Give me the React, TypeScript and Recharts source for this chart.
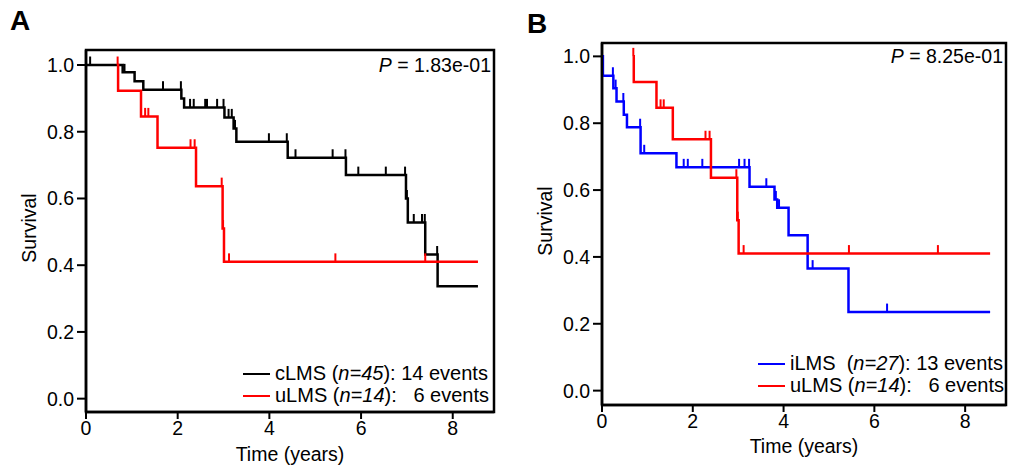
import React from 'react';
import { ComposedChart, Line, XAxis, YAxis, ReferenceArea, Label } from 'recharts';

// survival curves (t = years, s = survival, c = censored mark)
interface KmPoint {
  t: number;
  s: number;
  c?: boolean;
}

const xTicks = [0, 2, 4, 6, 8];
const yTicks = [0, 0.2, 0.4, 0.6, 0.8, 1.0];
const xMax = 8.9;

const cLMS: KmPoint[] = [
  { t: 0, s: 1 }, { t: 0.09, s: 1, c: true },
  { t: 0.8, s: 0.978 }, { t: 0.84, s: 0.978, c: true },
  { t: 1.06, s: 0.951 }, { t: 1.25, s: 0.926 },
  { t: 1.68, s: 0.926, c: true }, { t: 2.07, s: 0.926, c: true },
  { t: 2.08, s: 0.9 }, { t: 2.14, s: 0.873 },
  { t: 2.27, s: 0.873, c: true }, { t: 2.35, s: 0.873, c: true },
  { t: 2.6, s: 0.873, c: true }, { t: 2.64, s: 0.873, c: true },
  { t: 2.86, s: 0.873, c: true }, { t: 3.0, s: 0.873, c: true },
  { t: 3.02, s: 0.843 }, { t: 3.11, s: 0.843, c: true }, { t: 3.18, s: 0.843, c: true },
  { t: 3.22, s: 0.81 }, { t: 3.25, s: 0.81, c: true }, { t: 3.28, s: 0.77 },
  { t: 3.99, s: 0.77, c: true }, { t: 4.38, s: 0.77, c: true },
  { t: 4.4, s: 0.722 }, { t: 4.57, s: 0.722, c: true },
  { t: 5.38, s: 0.722, c: true }, { t: 5.66, s: 0.722, c: true },
  { t: 5.67, s: 0.67 }, { t: 5.94, s: 0.67, c: true },
  { t: 6.54, s: 0.67, c: true }, { t: 6.96, s: 0.67, c: true },
  { t: 6.98, s: 0.6 }, { t: 7.0, s: 0.6, c: true }, { t: 7.02, s: 0.528 },
  { t: 7.15, s: 0.528, c: true }, { t: 7.33, s: 0.528, c: true }, { t: 7.39, s: 0.528, c: true },
  { t: 7.4, s: 0.432 }, { t: 7.66, s: 0.432, c: true },
  { t: 7.67, s: 0.337 }, { t: 8.55, s: 0.337 },
];

const uLMS: KmPoint[] = [
  { t: 0.69, s: 1, c: true }, { t: 0.7, s: 0.923 },
  { t: 1.2, s: 0.846 }, { t: 1.29, s: 0.846, c: true }, { t: 1.36, s: 0.846, c: true },
  { t: 1.56, s: 0.752 }, { t: 2.28, s: 0.752, c: true }, { t: 2.37, s: 0.752, c: true },
  { t: 2.4, s: 0.637 }, { t: 2.96, s: 0.637, c: true },
  { t: 2.98, s: 0.51 }, { t: 2.99, s: 0.51, c: true },
  { t: 3.01, s: 0.41 }, { t: 3.12, s: 0.41, c: true },
  { t: 5.44, s: 0.41, c: true }, { t: 7.4, s: 0.41, c: true }, { t: 8.55, s: 0.41 },
];

const iLMS: KmPoint[] = [
  { t: 0, s: 1 }, { t: 0.02, s: 0.942 },
  { t: 0.24, s: 0.942, c: true }, { t: 0.25, s: 0.905 },
  { t: 0.3, s: 0.905, c: true }, { t: 0.32, s: 0.865 },
  { t: 0.47, s: 0.865, c: true }, { t: 0.48, s: 0.825 }, { t: 0.55, s: 0.788 },
  { t: 0.84, s: 0.788, c: true }, { t: 0.85, s: 0.71 }, { t: 0.93, s: 0.71, c: true },
  { t: 1.64, s: 0.668 }, { t: 1.8, s: 0.668, c: true }, { t: 1.89, s: 0.668, c: true },
  { t: 2.21, s: 0.668, c: true }, { t: 3.02, s: 0.668, c: true },
  { t: 3.14, s: 0.668, c: true }, { t: 3.24, s: 0.668, c: true },
  { t: 3.25, s: 0.61 }, { t: 3.62, s: 0.61, c: true },
  { t: 3.8, s: 0.572 }, { t: 3.83, s: 0.572, c: true },
  { t: 3.86, s: 0.547 }, { t: 3.9, s: 0.547, c: true },
  { t: 4.11, s: 0.465 }, { t: 4.53, s: 0.365 }, { t: 4.64, s: 0.365, c: true },
  { t: 5.43, s: 0.235 }, { t: 6.28, s: 0.235, c: true }, { t: 8.55, s: 0.235 },
];

const FONT = '"Liberation Sans", Arial, sans-serif';
const FS = 19.5;
const LW = 2.5;

const censorDot = (color: string) => (props: any) => {
  const { cx, cy, payload, index } = props;
  if (!payload?.c || cx == null) return <g key={`d${index}`} />;
  return <line key={`d${index}`} x1={cx} x2={cx} y1={cy} y2={cy - 8.5} stroke={color} strokeWidth={2} />;
};

interface Series { data: KmPoint[]; color: string; name: string }
interface LegendRow { color: string; pre: string; n: string; post: string }

interface PanelProps {
  left: number;
  width: number;
  marginTop: number;
  marginRight: number;
  yAxisWidth: number;
  xAxisHeight: number;
  yDomain: [number, number];
  xLabelOffset: number;
  survivalX: number;
  series: Series[];
  letter: string;
  letterPos: [number, number];
  pText: string;
  pRight: number;
  pTop: number;
  legend: LegendRow[];
  legendTop: number;
  swatchX: number;
}

function KMPanel(p: PanelProps) {
  const tickStyle = { fill: '#000', fontSize: FS, fontFamily: FONT };
  return (
    <div style={{ position: 'absolute', left: p.left, top: 0, width: p.width, height: 468, fontFamily: FONT }}>
      <ComposedChart width={p.width} height={468} margin={{ top: p.marginTop, right: p.marginRight, left: 0, bottom: 0 }}>
        <XAxis
          dataKey="t"
          type="number"
          domain={[0, xMax]}
          ticks={xTicks}
          allowDataOverflow
          height={p.xAxisHeight}
          tickSize={7}
          tickMargin={2}
          tick={tickStyle}
          axisLine={{ stroke: '#000', strokeWidth: LW }}
          tickLine={{ stroke: '#000', strokeWidth: 2 }}
        >
          <Label value="Time (years)" position="insideBottom" offset={p.xLabelOffset} style={{ fill: '#000', fontSize: FS, fontFamily: FONT }} />
        </XAxis>
        <YAxis
          type="number"
          domain={p.yDomain}
          ticks={yTicks}
          allowDataOverflow
          width={p.yAxisWidth}
          tickSize={9}
          tickMargin={3}
          tick={tickStyle}
          tickFormatter={(v: number) => v.toFixed(1)}
          axisLine={{ stroke: '#000', strokeWidth: LW }}
          tickLine={{ stroke: '#000', strokeWidth: 2 }}
        >
          <Label
            content={(lp: any) => {
              const vb = lp.viewBox || {};
              const cx = (vb.x || 0) + p.survivalX;
              const cy = (vb.y || 0) + (vb.height || 0) / 2 - 3;
              return (
                <text x={cx} y={cy} transform={`rotate(-90 ${cx} ${cy})`} textAnchor="middle" dominantBaseline="central" fill="#000" fontSize={FS} fontFamily={FONT}>
                  Survival
                </text>
              );
            }}
          />
        </YAxis>
        <ReferenceArea x1={0} x2={xMax} y1={p.yDomain[0]} y2={p.yDomain[1]} fill="none" stroke="#000" strokeWidth={LW} ifOverflow="visible" />
        {p.series.map((s) => (
          <Line
            key={s.name}
            data={s.data}
            dataKey="s"
            type="stepAfter"
            stroke={s.color}
            strokeWidth={LW}
            dot={censorDot(s.color)}
            activeDot={false}
            isAnimationActive={false}
          />
        ))}
      </ComposedChart>
      <div style={{ position: 'absolute', left: p.letterPos[0], top: p.letterPos[1], fontSize: 28, lineHeight: '28px', fontWeight: 'bold' }}>{p.letter}</div>
      <div style={{ position: 'absolute', right: p.pRight, top: p.pTop, fontSize: FS, lineHeight: '22px', whiteSpace: 'pre' }}>
        <i>P</i> = {p.pText}
      </div>
      {p.legend.map((r, i) => (
        <div key={i} style={{ position: 'absolute', left: p.swatchX, top: p.legendTop + i * 22, height: 22, whiteSpace: 'pre', fontSize: 20, lineHeight: '22px' }}>
          <span style={{ display: 'inline-block', width: 27, height: 2, background: r.color, verticalAlign: 'middle', marginRight: 5, position: 'relative', top: -1 }} />
          {r.pre}<i>{r.n}</i>{r.post}
        </div>
      ))}
    </div>
  );
}

export default function App() {
  return (
    <div style={{ position: 'absolute', left: 0, top: 0, width: 1013, height: 468, background: '#fff' }}>
      <KMPanel
        left={0}
        width={500}
        marginTop={50}
        marginRight={6}
        yAxisWidth={86}
        xAxisHeight={56}
        yDomain={[-0.04, 1.045]}
        xLabelOffset={7}
        survivalX={28.5}
        series={[
          { name: 'cLMS', data: cLMS, color: '#000000' },
          { name: 'uLMS', data: uLMS, color: '#ff0000' },
        ]}
        letter="A"
        letterPos={[10, 7]}
        pText="1.83e-01"
        pRight={500 - 491}
        pTop={54}
        legend={[
          { color: '#000000', pre: 'cLMS (', n: 'n=45', post: '): 14 events' },
          { color: '#ff0000', pre: 'uLMS (', n: 'n=14', post: '):   6 events' },
        ]}
        legendTop={362}
        swatchX={243}
      />
      <KMPanel
        left={515}
        width={498}
        marginTop={43}
        marginRight={7}
        yAxisWidth={87}
        xAxisHeight={63}
        yDomain={[-0.043, 1.04]}
        xLabelOffset={15}
        survivalX={30}
        series={[
          { name: 'iLMS', data: iLMS, color: '#0000ff' },
          { name: 'uLMS', data: uLMS, color: '#ff0000' },
        ]}
        letter="B"
        letterPos={[12, 10]}
        pText="8.25e-01"
        pRight={498 - 488}
        pTop={45}
        legend={[
          { color: '#0000ff', pre: 'iLMS  (', n: 'n=27', post: '): 13 events' },
          { color: '#ff0000', pre: 'uLMS (', n: 'n=14', post: '):   6 events' },
        ]}
        legendTop={352}
        swatchX={243}
      />
    </div>
  );
}
